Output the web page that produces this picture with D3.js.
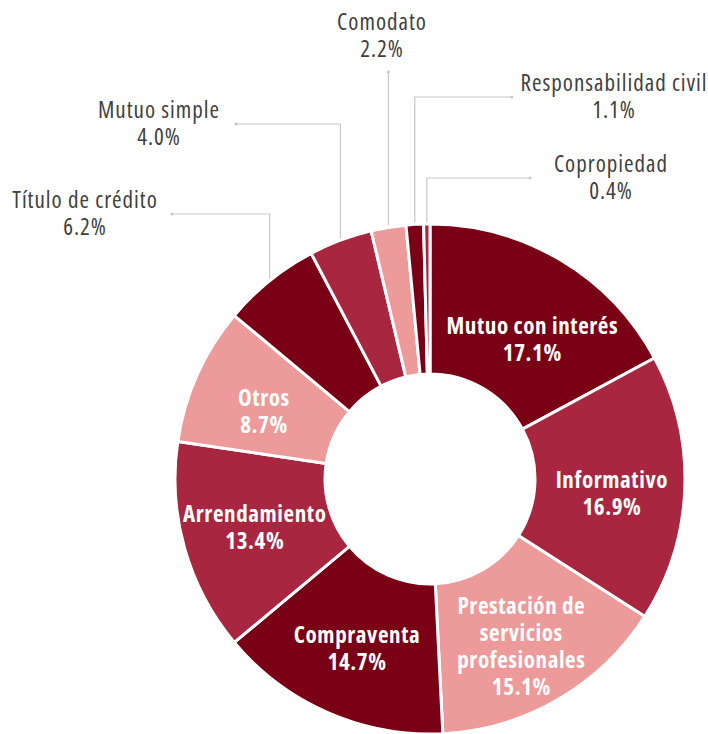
<!DOCTYPE html>
<html lang="es">
<head>
<meta charset="UTF-8" />
<title>Donut</title>
<style>
  body { margin: 0; background: #fff; }
  svg text { font-family: "Open Sans", "Noto Sans", sans-serif; font-stretch: 75%; letter-spacing: 1px; }
  svg text.inside { letter-spacing: 0.6px; }
</style>
</head>
<body>
<div id="chart"></div>
<script src="https://d3js.org/d3.v7.min.js"></script>
<script>
const width = 708;
const height = 734;

const categories = [
  "Mutuo con interés", "Informativo", "Prestación de servicios profesionales",
  "Compraventa", "Arrendamiento", "Otros", "Título de crédito",
  "Mutuo simple", "Comodato", "Responsabilidad civil", "Copropiedad"
];
const shares = [17.1, 16.9, 15.1, 14.7, 13.4, 8.7, 6.2, 4.0, 2.2, 1.1, 0.4];
const labelLines = [
  ["Mutuo con interés"], ["Informativo"], ["Prestación de", "servicios", "profesionales"],
  ["Compraventa"], ["Arrendamiento"], ["Otros"], ["Título de crédito"],
  ["Mutuo simple"], ["Comodato"], ["Responsabilidad civil"], ["Copropiedad"]
];
const insideCount = 6;

// small nudges for the inside labels (dx, dy)
const insideNudge = [[9, 17], [0, 8], [0, 11], [0, 3], [0, 0], [0, 8]];

// callout layout for the small slices
const callouts = {
  "Título de crédito":     { elbowY: 214, endX: 172, labelX: 85 },
  "Mutuo simple":          { elbowY: 124, endX: 236, labelX: 159 },
  "Comodato":              { elbowY: 72,  endX: null, labelX: 382 },
  "Responsabilidad civil": { elbowY: 97,  endX: 512, labelX: 614 },
  "Copropiedad":           { elbowY: 178, endX: 530, labelX: 611 }
};

const palette = ["#7a0015", "#a8263f", "#ec9a9a"];

const cx = 430, cy = 479;
const rOuter = 255, rInner = 105;
const insideSize = 23, outsideSize = 23, lineH = 27;

const data = categories.map((c, i) => ({ name: c, value: shares[i], lines: labelLines[i], i }));

const svg = d3.select("#chart").append("svg")
  .attr("width", width).attr("height", height);

const g = svg.append("g").attr("transform", `translate(${cx},${cy})`);

const pie = d3.pie().value(d => d.value).sort(null);
const arcs = pie(data);
const arc = d3.arc().innerRadius(rInner).outerRadius(rOuter);
const labelArc = d3.arc().innerRadius(182).outerRadius(182);

g.selectAll("path.slice")
  .data(arcs)
  .join("path")
  .attr("class", "slice")
  .attr("d", arc)
  .attr("fill", d => palette[d.index % 3])
  .attr("stroke", "#fff")
  .attr("stroke-width", 3)
  .attr("stroke-linejoin", "miter");

// inside labels
const inside = g.selectAll("text.inside")
  .data(arcs.filter(d => d.index < insideCount))
  .join("text")
  .attr("class", "inside")
  .attr("text-anchor", "middle")
  .attr("fill", "#fff")
  .attr("font-weight", 700)
  .attr("font-size", insideSize)
  .attr("transform", d => {
    const [x, y] = labelArc.centroid(d);
    const [nx, ny] = insideNudge[d.index];
    const n = d.data.lines.length + 1;
    const top = y - ((n - 1) * lineH) / 2 + 7.5;
    return `translate(${x + nx},${top + ny})`;
  });

inside.selectAll("tspan")
  .data(d => d.data.lines.concat([d3.format(".1f")(d.data.value) + "%"]))
  .join("tspan")
  .attr("x", 0)
  .attr("dy", (d, i) => i === 0 ? 0 : lineH)
  .text(d => d);

// outside callouts
const outside = arcs.filter(d => d.index >= insideCount);

outside.forEach(d => {
  const c = callouts[d.data.name];
  const a = (d.startAngle + d.endAngle) / 2;
  const x0 = cx + rOuter * Math.sin(a);
  const y0 = cy - rOuter * Math.cos(a);
  const pts = [[x0, y0 - 2], [x0, c.elbowY]];
  if (c.endX !== null) pts.push([c.endX, c.elbowY]);
  svg.append("path")
    .attr("d", d3.line()(pts))
    .attr("fill", "none")
    .attr("stroke", "#c8c8c8")
    .attr("stroke-width", 1.2);
  const end = pts[pts.length - 1];
  svg.append("circle")
    .attr("cx", end[0]).attr("cy", end[1]).attr("r", 1.6)
    .attr("fill", "#c8c8c8");

  const lines = d.data.lines.concat([d3.format(".1f")(d.data.value) + "%"]);
  let firstBase;
  if (c.endX === null) {
    firstBase = c.elbowY - 42;
  } else {
    firstBase = c.elbowY - lineH / 2 + 7;
  }
  const t = svg.append("text")
    .attr("text-anchor", "middle")
    .attr("fill", "#404040")
    .attr("font-size", outsideSize)
    .attr("transform", `translate(${c.labelX},${firstBase})`);
  t.selectAll("tspan")
    .data(lines)
    .join("tspan")
    .attr("x", 0)
    .attr("dy", (s, i) => i === 0 ? 0 : lineH)
    .text(s => s);
});
</script>
</body>
</html>
